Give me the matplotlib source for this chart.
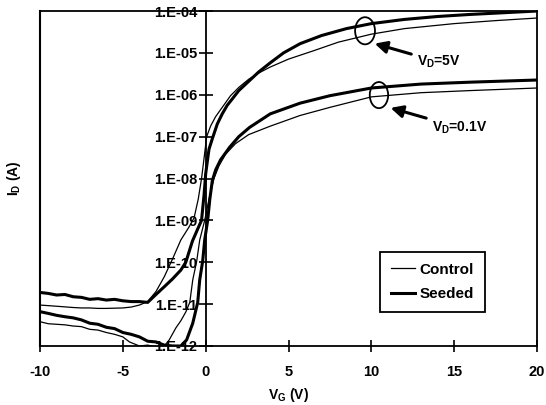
import matplotlib.pyplot as plt
from matplotlib.patches import Ellipse

plt.rcParams['font.family'] = ['Liberation Sans', 'DejaVu Sans']
plt.rcParams['font.weight'] = 'bold'
plt.rcParams['axes.unicode_minus'] = False

# Control, VD = 5 V (thin)
vg_ctrl_5 = [-10, -9.5, -9, -8.5, -8, -7.5, -7, -6.5, -6, -5.5, -5, -4.5, -4, -3.5,
             -3, -2.5, -2, -1.5, -1, -0.7, -0.45, -0.25, -0.1, 0.06, 0.3, 0.6, 1.0, 1.5,
             2.0, 2.6, 3.2, 3.9, 5, 6.5, 8, 10, 12, 15, 17.5, 20]
id_ctrl_5 = [9.5e-12, 9.2e-12, 8.9e-12, 8.6e-12, 8.3e-12, 8.1e-12, 8.1e-12, 7.9e-12, 7.9e-12,
             8.0e-12, 8.1e-12, 8.5e-12, 9.5e-12, 1.15e-11, 2.0e-11, 4.5e-11, 1.2e-10,
             3.4e-10, 7.0e-10, 1.15e-09, 3.2e-09, 1.0e-08, 3.0e-08, 1.0e-07, 1.8e-07,
             3.0e-07, 5.0e-07, 9.5e-07, 1.5e-06, 2.35e-06, 3.3e-06, 4.6e-06, 7.1e-06,
             1.12e-05, 1.8e-05, 2.8e-05, 3.8e-05, 5.0e-05, 5.9e-05, 6.8e-05]

# Seeded, VD = 5 V (thick)
vg_seed_5 = [-10, -9.5, -9, -8.5, -8, -7.5, -7, -6.5, -6, -5.5, -5, -4.5, -4, -3.5, -3,
             -2.5, -2, -1.5, -1.2, -0.8, -0.5, -0.25, -0.1, 0.0, 0.2, 0.4, 0.7, 1.0, 1.3,
             1.6, 2.0, 2.6, 3.2, 3.9, 4.7, 5.7, 7, 8.5, 10, 12, 14, 16, 18, 20]
id_seed_5 = [1.9e-11, 1.8e-11, 1.65e-11, 1.7e-11, 1.5e-11, 1.45e-11, 1.3e-11, 1.35e-11,
             1.25e-11, 1.3e-11, 1.2e-11, 1.15e-11, 1.15e-11, 1.1e-11, 1.7e-11, 2.6e-11,
             4.0e-11, 6.5e-11, 1.0e-10, 3.2e-10, 6.0e-10, 1.0e-09, 4.0e-09, 1.3e-08,
             5.0e-08, 8.9e-08, 2.0e-07, 3.5e-07, 5.6e-07, 7.9e-07, 1.26e-06, 2.1e-06,
             3.5e-06, 5.8e-06, 1.0e-05, 1.66e-05, 2.6e-05, 3.8e-05, 5.0e-05, 6.3e-05,
             7.4e-05, 8.3e-05, 9.1e-05, 1.0e-04]

# Control, VD = 0.1 V (thin)
vg_ctrl_01 = [-10, -9.5, -9, -8.5, -8, -7.5, -7, -6.5, -6, -5.5, -5, -4.6, -4, -3.5, -3,
              -2.5, -2.2, -1.8, -1.5, -1.2, -0.96, -0.78, -0.54, -0.36, -0.06, 0.2, 0.5,
              0.8, 1.2, 1.8, 2.6, 3.9, 5.7, 7.5, 10, 13, 16, 20]
id_ctrl_01 = [3.8e-12, 3.4e-12, 3.3e-12, 3.2e-12, 3.0e-12, 2.9e-12, 2.5e-12, 2.4e-12,
              2.1e-12, 1.9e-12, 1.65e-12, 1.25e-12, 1.0e-12, 1.05e-12, 9.5e-13, 1.0e-12,
              1.4e-12, 2.7e-12, 4.0e-12, 6.5e-12, 1.1e-11, 3.8e-11, 1.07e-10, 3.4e-10,
              1.0e-09, 3.2e-09, 1.0e-08, 2.0e-08, 3.8e-08, 6.8e-08, 1.12e-07, 1.78e-07,
              3.2e-07, 5.0e-07, 8.9e-07, 1.12e-06, 1.26e-06, 1.45e-06]

# Seeded, VD = 0.1 V (thick)
vg_seed_01 = [-10, -9.5, -9, -8.5, -8, -7.5, -7, -6.5, -6, -5.5, -5, -4.5, -4, -3.5, -3,
              -2.5, -2, -1.5, -1.15, -0.78, -0.48, -0.36, -0.18, -0.06, 0.12, 0.25, 0.4,
              0.6, 0.9, 1.45, 2.0, 2.65, 3.9, 5.7, 7.5, 10, 13, 16, 20]
id_seed_01 = [6.6e-12, 6.0e-12, 5.4e-12, 5.0e-12, 4.7e-12, 4.2e-12, 3.5e-12, 3.3e-12,
              2.8e-12, 2.6e-12, 2.1e-12, 1.9e-12, 1.65e-12, 1.3e-12, 1.25e-12, 1.05e-12,
              1.0e-12, 1.0e-12, 1.4e-12, 3.5e-12, 1.1e-11, 3.8e-11, 1.07e-10, 3.4e-10,
              1.0e-09, 3.2e-09, 8.9e-09, 1.6e-08, 2.8e-08, 5.6e-08, 1.0e-07, 1.66e-07,
              3.5e-07, 6.3e-07, 9.5e-07, 1.45e-06, 1.8e-06, 2.0e-06, 2.25e-06]

x_ticks = [-10, -5, 0, 5, 10, 15, 20]
y_ticks = [1e-12, 1e-11, 1e-10, 1e-9, 1e-8, 1e-7, 1e-6, 1e-5, 1e-4]
y_tick_labels = ['1.E-12', '1.E-11', '1.E-10', '1.E-09', '1.E-08',
                 '1.E-07', '1.E-06', '1.E-05', '1.E-04']

fig = plt.figure(figsize=(5.46, 4.05), dpi=100)
ax = fig.add_axes([0.0733, 0.1457, 0.9102, 0.8271])

ax.plot(vg_ctrl_5, id_ctrl_5, color='black', lw=0.9, label='Control')
ax.plot(vg_seed_5, id_seed_5, color='black', lw=2.2, label='Seeded')
ax.plot(vg_ctrl_01, id_ctrl_01, color='black', lw=0.9)
ax.plot(vg_seed_01, id_seed_01, color='black', lw=2.2)

ax.set_yscale('log')
ax.set_xlim(-10, 20)
ax.set_ylim(1e-12, 1e-4)
ax.minorticks_off()

# y axis crosses at VG = 0, outer frame kept on the left
ax.spines['left'].set_position(('data', 0))
ax.axvline(-10, color='black', lw=1.5, clip_on=False)
for s in ax.spines.values():
    s.set_linewidth(1.3)

ax.set_yticks(y_ticks)
ax.set_yticklabels(y_tick_labels)
ax.set_xticks(x_ticks)
ax.tick_params(axis='y', direction='inout', length=10, width=1.2, pad=1, labelsize=10.5)
ax.tick_params(axis='x', direction='inout', length=8, width=1.2, pad=10, labelsize=10.5)

ax.set_xlabel('V$_\\mathregular{G}$ (V)', fontsize=10, fontweight='bold', labelpad=5)
ax.text(-0.052, 0.5, 'I$_\\mathregular{D}$ (A)', transform=ax.transAxes, rotation=90,
        ha='center', va='center', fontsize=10, fontweight='bold')

# ellipses marking the two drain-voltage groups
ax.add_patch(Ellipse((0.654, 0.941), 0.040, 0.081, transform=ax.transAxes,
                     fill=False, lw=1.3, color='black'))
ax.add_patch(Ellipse((0.682, 0.749), 0.037, 0.078, transform=ax.transAxes,
                     fill=False, lw=1.3, color='black'))
arrow = dict(arrowstyle='-|>', color='black', lw=2.2, mutation_scale=18)
ax.annotate('V$_\\mathregular{D}$=5V', xy=(0.668, 0.905), xytext=(0.758, 0.848),
            xycoords='axes fraction', textcoords='axes fraction', arrowprops=arrow,
            ha='left', va='center', fontsize=10, fontweight='bold')
ax.annotate('V$_\\mathregular{D}$=0.1V', xy=(0.700, 0.713), xytext=(0.788, 0.652),
            xycoords='axes fraction', textcoords='axes fraction', arrowprops=arrow,
            ha='left', va='center', fontsize=10, fontweight='bold')

leg = ax.legend(loc='upper left', bbox_to_anchor=(0.684, 0.281), borderaxespad=0,
                fancybox=False, edgecolor='black', framealpha=1, handlelength=1.6,
                handletextpad=0.3, borderpad=0.7, labelspacing=0.7,
                prop={'size': 11, 'weight': 'bold'})
leg.get_frame().set_linewidth(1.3)

fig.savefig('out.png', dpi=100)
